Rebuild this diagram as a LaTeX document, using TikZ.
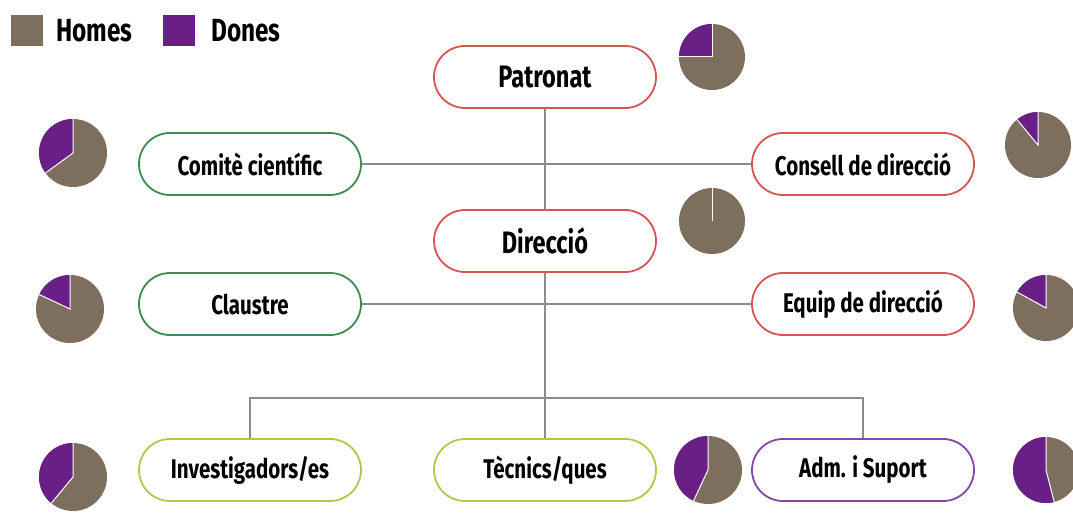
\documentclass[tikz,border=0pt]{standalone}
\usepackage{fontspec}
\setmainfont{Fira Sans}[FakeStretch=0.76]
\usetikzlibrary{calc}
\definecolor{brownc}{HTML}{7D6E5E}
\definecolor{purplec}{HTML}{6A1F86}
\definecolor{redc}{HTML}{D65552}
\definecolor{greenc}{HTML}{3E8A50}
\definecolor{limec}{HTML}{A9CC4E}
\definecolor{violetc}{HTML}{8447A6}
\definecolor{linec}{HTML}{8C8C8C}
\tikzset{
  box/.style={rectangle, rounded corners=31pt, minimum width=222pt, minimum height=62pt, line width=1.8pt, fill=white, font=\fontsize{27}{30}\selectfont\bfseries, inner sep=0pt},
  bigbox/.style={box, font=\fontsize{31}{34}\selectfont\bfseries},
  conn/.style={linec, line width=1.4pt},
  lbl/.style={font=\fontsize{32}{34}\selectfont\bfseries, anchor=west, inner sep=0pt}
}
\newcommand\mypie[3]{%
  \fill[brownc] (#1) circle (#2);
  \fill[purplec] (#1) -- ++(-90:#2) arc (-90:-90-360*#3:#2) -- cycle;
  \draw[white, line width=1pt] ($(#1)+(-90:#2)$) -- (#1) -- ($(#1)+(-90-360*#3:#2)$);
}
\begin{document}
\begin{tikzpicture}[x=1pt, y=-1pt]
\useasboundingbox (0,0) rectangle (1073,513);
\coordinate (j) at (545,398);
\coordinate (jl) at (250,398);
\coordinate (jr) at (863,398);
\node[bigbox, draw=redc] (pat) at (545,77) {Patronat};
\node[box, draw=greenc] (com) at (250,164) {Comitè científic};
\node[box, draw=redc] (con) at (863,164) {Consell de direcció};
\node[bigbox, draw=redc] (dir) at (545,241) {Direcció};
\node[box, draw=greenc] (cla) at (250,304) {Claustre};
\node[box, draw=redc] (equ) at (863,304) {Equip de direcció};
\node[box, draw=limec] (inv) at (250,470) {Investigadors/es};
\node[box, draw=limec] (tec) at (545,470) {Tècnics/ques};
\node[box, draw=violetc] (adm) at (863,470) {Adm. i Suport};
% connectors
\draw[conn] (pat) -- (dir);
\draw[conn] (com) -- (con);
\draw[conn] (cla) -- (equ);
\draw[conn] (dir) -- (j);
\draw[conn] (j) -- (tec);
\draw[conn] (inv) -- (jl) -- (jr) -- (adm);
% pies
\mypie{712,57}{33}{0.25}
\mypie{73,153}{34}{0.35}
\mypie{1038,145}{33}{0.11}
\mypie{712,221}{33}{0.0}
\mypie{70,309}{34}{0.18}
\mypie{1046,308}{33}{0.17}
\mypie{73,477}{34}{0.39}
\mypie{708,470}{34}{0.43}
\mypie{1046,470}{33}{0.54}
% legend
\fill[brownc] (11,15) rectangle (43,46);
\node[lbl] (lh) at (56,31) {Homes};
\fill[purplec] (163,15) rectangle (195,46);
\node[lbl] (ld) at (211,31) {Dones};
\end{tikzpicture}
\end{document}
